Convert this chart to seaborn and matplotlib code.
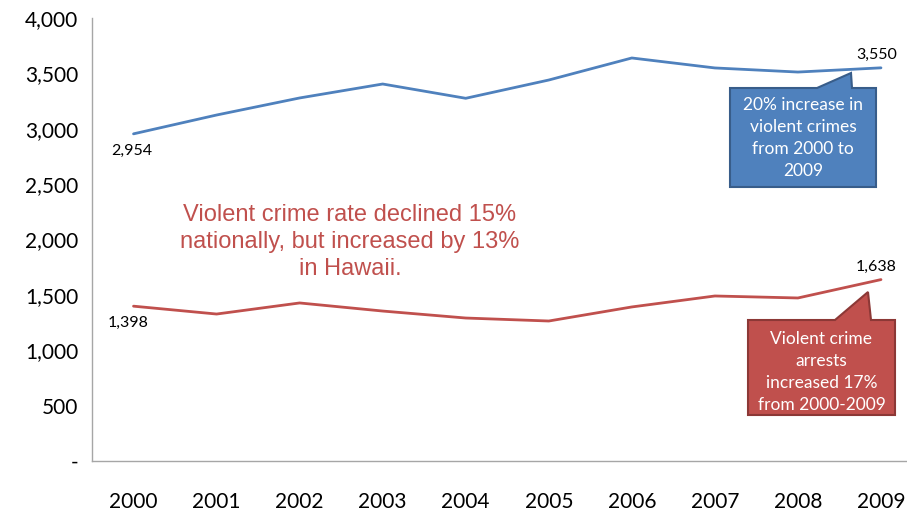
import matplotlib
matplotlib.use("Agg")
import matplotlib.pyplot as plt
from matplotlib.patches import Polygon
from matplotlib.ticker import FuncFormatter
import seaborn as sns
import pandas as pd

years = [2000, 2001, 2002, 2003, 2004, 2005, 2006, 2007, 2008, 2009]
violent_crimes = [2954, 3124, 3278, 3404, 3275, 3440, 3639, 3549, 3512, 3550]
violent_arrests = [1398, 1327, 1427, 1354, 1291, 1264, 1391, 1490, 1472, 1638]
series_names = ["Violent crimes", "Violent crime arrests"]
y_ticks = [0, 500, 1000, 1500, 2000, 2500, 3000, 3500, 4000]

BLUE = "#4F81BD"
RED = "#C0504D"

sns.set_theme(style="white")
plt.rcParams["font.family"] = ["Lato", "DejaVu Sans"]

W, H = 907, 511
fig = plt.figure(figsize=(W / 100, H / 100), dpi=100)
ax = fig.add_axes([92 / W, 50 / H, (922.5 - 92) / W, (461 - 18) / H])

df = pd.DataFrame({
    "pos": list(range(len(years))) * 2,
    "value": violent_crimes + violent_arrests,
    "series": [series_names[0]] * len(years) + [series_names[1]] * len(years),
})
sns.lineplot(data=df, x="pos", y="value", hue="series",
             palette=[BLUE, RED], linewidth=2.0, legend=False, ax=ax)

ax.set_xlim(-0.5, len(years) - 0.5)
ax.set_ylim(0, 4000)
ax.set_xticks(range(len(years)))
ax.set_xticklabels([str(y) for y in years])
ax.set_yticks(y_ticks)
ax.yaxis.set_major_formatter(FuncFormatter(lambda v, p: "-" if v == 0 else f"{int(v):,}"))
ax.set_xlabel("")
ax.set_ylabel("")
ax.tick_params(axis="both", length=0, labelsize=15, colors="black")
ax.tick_params(axis="x", pad=22)
ax.tick_params(axis="y", pad=10)
for side in ("top", "right"):
    ax.spines[side].set_visible(False)
for side in ("left", "bottom"):
    ax.spines[side].set_color("#A6A6A6")
    ax.spines[side].set_linewidth(1.0)

# end-point value labels
lbl = dict(fontsize=11.5, color="black", ha="center", va="center")
ax.annotate(f"{violent_crimes[0]:,}", (0, violent_crimes[0]), xytext=(-2, -17),
            textcoords="offset pixels", **lbl)
ax.annotate(f"{violent_crimes[-1]:,}", (9, violent_crimes[-1]), xytext=(-4, 13),
            textcoords="offset pixels", **lbl)
ax.annotate(f"{violent_arrests[0]:,}", (0, violent_arrests[0]), xytext=(-5, -17),
            textcoords="offset pixels", **lbl)
ax.annotate(f"{violent_arrests[-1]:,}", (9, violent_arrests[-1]), xytext=(-5, 13),
            textcoords="offset pixels", **lbl)

# centre note
fig.text(350 / W, 1 - 242 / H,
         "Violent crime rate declined 15%\nnationally, but increased by 13%\nin Hawaii.",
         ha="center", va="center", fontsize=17, color=RED,
         family=["Liberation Sans", "DejaVu Sans"], linespacing=1.3)


def px(pts):
    return [(x / W, 1 - y / H) for x, y in pts]


def callout(box, tip, base, face, edge, text, cy):
    x0, y0, x1, y1 = box
    pts = [(x0, y0), (base[0], y0), tip, (base[1], y0), (x1, y0), (x1, y1), (x0, y1)]
    fig.patches.append(Polygon(px(pts), closed=True, transform=fig.transFigure,
                               facecolor=face, edgecolor=edge, linewidth=1.5, zorder=3))
    fig.text((x0 + x1) / 2 / W, 1 - cy / H, text, ha="center", va="center",
             color="white", fontsize=12.5, linespacing=1.45, zorder=4)


callout((730, 88, 876, 187), (851, 73), (817, 852), BLUE, "#385D8A",
        "20% increase in\nviolent crimes\nfrom 2000 to\n2009", 138)
callout((748, 320, 895, 415), (868, 292), (835, 871), RED, "#8C3836",
        "Violent crime\narrests\nincreased 17%\nfrom 2000-2009", 372)

fig.savefig("out.png", dpi=100)
